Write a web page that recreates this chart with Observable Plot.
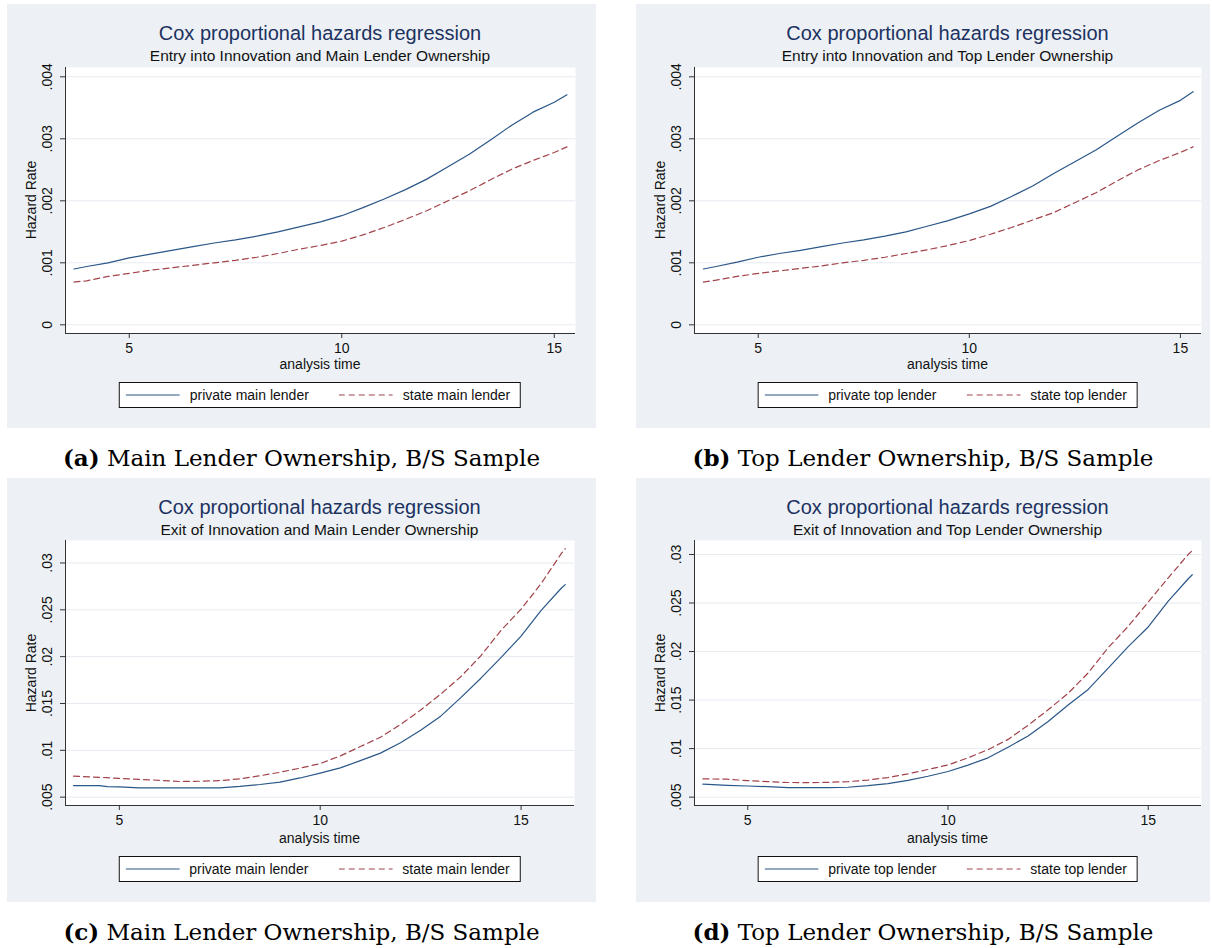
<!DOCTYPE html>
<html>
<head>
<meta charset="utf-8">
<script src="https://cdn.jsdelivr.net/npm/d3@7"></script>
<script src="https://cdn.jsdelivr.net/npm/@observablehq/plot@0.6"></script>
<style>
  body { margin: 0; background: #ffffff; }
  #root { position: relative; width: 1212px; height: 948px; overflow: hidden; font-family: "Liberation Sans", Arial, sans-serif; }
  .bg { position: absolute; background: #edf1f6; }
  .abs { position: absolute; white-space: nowrap; transform: translate(-50%, -50%); line-height: 1; }
  .title { font-size: 20px; color: #1c3260; }
  .subtitle { font-size: 15.5px; color: #111; }
  .axt { font-size: 14px; color: #111; }
  .legend { position: absolute; transform: translateX(-50%); background: #fff; border: 1px solid #111; box-sizing: border-box; height: 26px; display: flex; align-items: center; padding: 0 10px 0 6px; font-size: 14px; color: #111; white-space: nowrap; }
  .legend .item { display: flex; align-items: center; }
  .legend .item + .item { margin-left: 30px; }
  .legend svg { margin-right: 10px; }
  .caption { font-family: "DejaVu Serif", serif; font-size: 23px; color: #000; }
  .plotbox { position: absolute; }
</style>
</head>
<body>
<div id="root"></div>
<script>
// ---------- data ----------
const entryTicks = [0, 0.001, 0.002, 0.003, 0.004];
const exitTicks = [0.005, 0.01, 0.015, 0.02, 0.025, 0.03];
const timeTicks = [5, 10, 15];

// (a) Entry into innovation, main lender
const timeA = [3.7, 4.0, 4.5, 5.0, 5.5, 6.0, 6.5, 7.0, 7.5, 8.0, 8.5, 9.0, 9.5, 10.0, 10.5, 11.0, 11.5, 12.0, 12.5, 13.0, 13.5, 14.0, 14.5, 15.0, 15.3];
const privateA = [0.00090, 0.00094, 0.00100, 0.00108, 0.00114, 0.00120, 0.00126, 0.00132, 0.00137, 0.00143, 0.00150, 0.00158, 0.00166, 0.00176, 0.00189, 0.00203, 0.00218, 0.00235, 0.00255, 0.00275, 0.00298, 0.00322, 0.00343, 0.00359, 0.00371];
const stateA = [0.00069, 0.00071, 0.00078, 0.00083, 0.00088, 0.00092, 0.00096, 0.00100, 0.00104, 0.00109, 0.00115, 0.00122, 0.00128, 0.00135, 0.00145, 0.00157, 0.00170, 0.00184, 0.00200, 0.00216, 0.00234, 0.00251, 0.00265, 0.00278, 0.00287];

// (b) Entry into innovation, top lender
const timeB = [3.7, 4.0, 4.5, 5.0, 5.5, 6.0, 6.5, 7.0, 7.5, 8.0, 8.5, 9.0, 9.5, 10.0, 10.5, 11.0, 11.5, 12.0, 12.5, 13.0, 13.5, 14.0, 14.5, 15.0, 15.3];
const privateB = [0.00090, 0.00094, 0.00101, 0.00109, 0.00115, 0.00120, 0.00126, 0.00132, 0.00137, 0.00143, 0.00150, 0.00159, 0.00168, 0.00179, 0.00191, 0.00207, 0.00224, 0.00244, 0.00263, 0.00282, 0.00304, 0.00326, 0.00346, 0.00362, 0.00376];
const stateB = [0.00069, 0.00072, 0.00078, 0.00083, 0.00087, 0.00091, 0.00095, 0.00100, 0.00104, 0.00109, 0.00115, 0.00121, 0.00128, 0.00136, 0.00146, 0.00157, 0.00169, 0.00181, 0.00197, 0.00213, 0.00232, 0.00250, 0.00265, 0.00278, 0.00287];

// (c) Exit of innovation, main lender
const timeC = [3.86, 4.5, 4.7, 5.0, 5.5, 6.0, 6.5, 7.0, 7.5, 8.0, 8.5, 9.0, 9.5, 10.0, 10.5, 11.0, 11.5, 12.0, 12.5, 13.0, 13.5, 14.0, 14.5, 15.0, 15.5, 16.0, 16.1];
const privateC = [0.00624, 0.00624, 0.00612, 0.00610, 0.00600, 0.00599, 0.00599, 0.00599, 0.00600, 0.00615, 0.00635, 0.00660, 0.00705, 0.00756, 0.00812, 0.00890, 0.00970, 0.01080, 0.01215, 0.01365, 0.01562, 0.01770, 0.01990, 0.02219, 0.02495, 0.02730, 0.02769];
const stateC = [0.00724, 0.00712, 0.00708, 0.00700, 0.00690, 0.00680, 0.00667, 0.00670, 0.00677, 0.00695, 0.00728, 0.00766, 0.00810, 0.00859, 0.00940, 0.01040, 0.01140, 0.01275, 0.01430, 0.01600, 0.01786, 0.02010, 0.02280, 0.02507, 0.02780, 0.03100, 0.03153];

// (d) Exit of innovation, top lender
const timeD = [3.88, 4.5, 5.0, 5.5, 6.0, 6.5, 7.0, 7.5, 8.0, 8.5, 9.0, 9.5, 10.0, 10.5, 11.0, 11.5, 12.0, 12.5, 13.0, 13.5, 14.0, 14.5, 15.0, 15.5, 16.0, 16.1];
const privateD = [0.00634, 0.00621, 0.00615, 0.00608, 0.00599, 0.00598, 0.00598, 0.00602, 0.00618, 0.00640, 0.00672, 0.00715, 0.00764, 0.00830, 0.00905, 0.01015, 0.01130, 0.01280, 0.01450, 0.01610, 0.01830, 0.02050, 0.02253, 0.02520, 0.02750, 0.02791];
const stateD = [0.00688, 0.00685, 0.00670, 0.00660, 0.00651, 0.00650, 0.00652, 0.00660, 0.00676, 0.00702, 0.00740, 0.00785, 0.00832, 0.00905, 0.00990, 0.01095, 0.01240, 0.01400, 0.01570, 0.01780, 0.02040, 0.02260, 0.02510, 0.02760, 0.03000, 0.03041];

const titleText = "Cox proportional hazards regression";
const subtitles = [
  "Entry into Innovation and Main Lender Ownership",
  "Entry into Innovation and Top Lender Ownership",
  "Exit of Innovation and Main Lender Ownership",
  "Exit of Innovation and Top Lender Ownership"
];
const legendLabels = [
  ["private main lender", "state main lender"],
  ["private top lender", "state top lender"],
  ["private main lender", "state main lender"],
  ["private top lender", "state top lender"]
];
const captionTags = ["(a)", "(b)", "(c)", "(d)"];
const captionTexts = [
  "Main Lender Ownership, B/S Sample",
  "Top Lender Ownership, B/S Sample",
  "Main Lender Ownership, B/S Sample",
  "Top Lender Ownership, B/S Sample"
];
const yLabel = "Hazard Rate";
const xLabel = "analysis time";

// ---------- layout ----------
const panels = [
  {time: timeA, priv: privateA, state: stateA, ticks: entryTicks, xDomain: [3.5, 15.5], yDomain: [-0.00014, 0.00415],
   bg: [7, 4, 596, 428], plot: [65, 67, 575, 333]},
  {time: timeB, priv: privateB, state: stateB, ticks: entryTicks, xDomain: [3.49, 15.5], yDomain: [-0.00014, 0.00415],
   bg: [636, 4, 1210, 428], plot: [694, 67, 1201, 333]},
  {time: timeC, priv: privateC, state: stateC, ticks: exitTicks, xDomain: [3.66, 16.33], yDomain: [0.00411, 0.0324],
   bg: [7, 478, 596, 902], plot: [65, 540, 574, 805]},
  {time: timeD, priv: privateD, state: stateD, ticks: exitTicks, xDomain: [3.67, 16.33], yDomain: [0.00414, 0.03144],
   bg: [636, 478, 1210, 902], plot: [694, 540, 1201, 805]}
];

const privateColor = "#2a5788";
const stateColor = "#a2434a";
const dash = "6,4";
const root = document.getElementById("root");

function el(cls, x, y, html) {
  const d = document.createElement("div");
  d.className = cls;
  d.style.left = x + "px";
  d.style.top = y + "px";
  d.innerHTML = html;
  root.appendChild(d);
  return d;
}

const fmt = v => v === 0 ? "0" : d3.format(".3~f")(v).replace(/^0/, "");

function keySvg(color, dashed) {
  return `<svg width="54" height="6"><line x1="0" y1="3" x2="54" y2="3" stroke="${color}" stroke-width="1.2" ${dashed ? `stroke-dasharray="${dash}"` : ""}/></svg>`;
}

panels.forEach((p, i) => {
  const [bx0, by0, bx1, by1] = p.bg;
  const bg = document.createElement("div");
  bg.className = "bg";
  Object.assign(bg.style, {left: bx0 + "px", top: by0 + "px", width: (bx1 - bx0) + "px", height: (by1 - by0) + "px"});
  root.appendChild(bg);

  const [L, T, R, B] = p.plot;
  const cx = (L + R) / 2;
  el("abs title", cx, by0 + 29, titleText);
  el("abs subtitle", cx, by0 + 52, subtitles[i]);
  const yl = el("abs axt", L - 34, (T + B) / 2, yLabel);
  yl.style.transform = "translate(-50%, -50%) rotate(-90deg)";
  el("abs axt", cx, by0 + 360, xLabel);

  const lg = document.createElement("div");
  lg.className = "legend";
  lg.style.left = cx + "px";
  lg.style.top = (by0 + 378) + "px";
  lg.innerHTML = `<div class="item">${keySvg(privateColor, false)}<span>${legendLabels[i][0]}</span></div>` +
                 `<div class="item">${keySvg(stateColor, true)}<span>${legendLabels[i][1]}</span></div>`;
  root.appendChild(lg);

  el("abs caption", (bx0 + bx1) / 2, by1 + 30, `<b>${captionTags[i]}</b> ${captionTexts[i]}`);

  const ML = 60, MR = 2, MT = 2, MB = 45;
  const privRows = p.time.map((t, k) => ({t, v: p.priv[k]}));
  const stateRows = p.time.map((t, k) => ({t, v: p.state[k]}));
  const chart = Plot.plot({
    width: (R - L) + ML + MR,
    height: (B - T) + MT + MB,
    marginLeft: ML, marginRight: MR, marginTop: MT, marginBottom: MB,
    x: {domain: p.xDomain},
    y: {domain: p.yDomain},
    style: {background: "transparent", color: "#111", fontFamily: '"Liberation Sans", Arial, sans-serif', fontSize: "14px", overflow: "visible"},
    marks: [
      Plot.frame({fill: "white", stroke: "none"}),
      Plot.gridY(p.ticks, {stroke: "#e6ebf2", strokeOpacity: 1, strokeWidth: 1}),
      Plot.line(privRows, {x: "t", y: "v", stroke: privateColor, strokeWidth: 1.2}),
      Plot.line(stateRows, {x: "t", y: "v", stroke: stateColor, strokeWidth: 1.2, strokeDasharray: dash}),
      Plot.ruleX([p.xDomain[0]], {stroke: "#333", strokeWidth: 1}),
      Plot.ruleY([p.yDomain[0]], {stroke: "#333", strokeWidth: 1}),
      Plot.axisY(p.ticks, {tickSize: 5, tickRotate: -90, tickPadding: 9, tickFormat: fmt, label: null, stroke: "#333"}),
      Plot.axisX(timeTicks, {tickSize: 5, tickPadding: 5, label: null, stroke: "#333"})
    ]
  });
  const box = document.createElement("div");
  box.className = "plotbox";
  box.style.left = (L - ML) + "px";
  box.style.top = (T - MT) + "px";
  box.appendChild(chart);
  root.appendChild(box);
});
</script>
</body>
</html>
